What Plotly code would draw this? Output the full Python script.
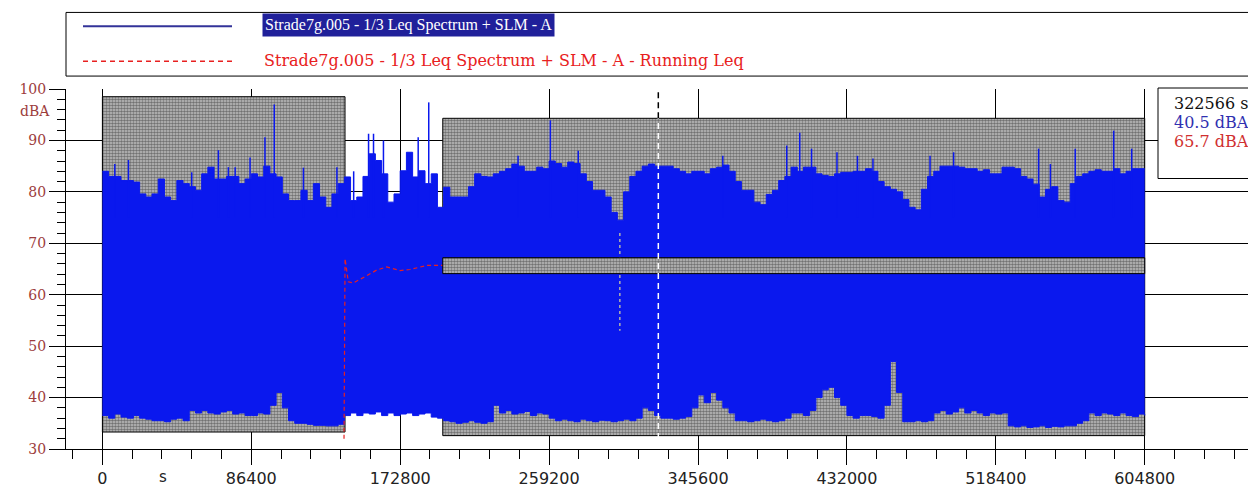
import numpy as np
import plotly.graph_objects as go

# ---------------- data ----------------
# hourly envelope of the 1/3 Leq Spectrum + SLM - A time history (dBA)
hour_index = list(range(169))          # 0 .. 168 h  (0 .. 604800 s)
upper_dba = [
    84.0, 83.0, 83.0, 82.2, 82.2, 81.9, 79.6, 79.0, 79.6, 82.5,
    79.0, 78.3, 82.2, 81.6, 81.0, 80.3, 83.5, 84.8, 82.5, 82.5,
    83.0, 83.0, 81.6, 82.5, 83.5, 82.9, 85.0, 83.5, 82.9, 79.6,
    78.3, 78.3, 80.3, 78.3, 81.6, 79.0, 77.0, 79.6, 81.6, 82.9,
    78.3, 79.0, 83.0, 87.4, 86.1, 83.5, 78.0, 79.6, 84.1, 87.7,
    82.9, 84.1, 81.6, 83.5, 77.0, 80.9, 79.0, 79.0, 79.0, 81.0,
    83.5, 83.0, 82.9, 83.5, 84.0, 84.5, 85.4, 85.0, 84.0, 84.0,
    84.8, 84.5, 86.0, 85.5, 84.8, 85.8, 85.5, 83.5, 82.0, 80.3,
    80.3, 79.0, 76.0, 74.5, 80.0, 83.0, 84.0, 85.0, 85.4, 85.0,
    85.0, 85.0, 84.5, 84.0, 83.5, 84.0, 84.0, 83.5, 84.5, 84.8,
    85.2, 84.0, 82.0, 80.3, 80.3, 78.0, 77.5, 79.5, 80.3, 82.2,
    83.0, 84.8, 84.0, 84.8, 84.8, 83.5, 83.2, 83.0, 83.5, 83.8,
    83.8, 84.0, 84.0, 84.5, 84.0, 82.0, 81.0, 80.5, 80.0, 78.5,
    77.0, 76.5, 80.5, 83.0, 84.0, 85.0, 85.0, 85.0, 84.8, 84.5,
    84.5, 84.0, 84.3, 83.5, 83.5, 84.8, 84.8, 84.5, 83.0, 82.5,
    81.5, 79.0, 80.5, 81.0, 78.3, 78.0, 81.6, 83.0, 83.5, 84.0,
    84.3, 84.0, 84.0, 84.5, 83.5, 84.0, 84.5, 84.5, 84.5,
]
lower_dba = [
    36.5, 36.0, 36.8, 36.2, 36.0, 36.5, 36.0, 35.8, 35.5, 35.5,
    35.3, 35.8, 36.0, 35.5, 37.5, 37.0, 37.5, 37.0, 36.8, 37.2,
    37.5, 36.8, 37.0, 36.5, 36.5, 37.0, 36.8, 38.5, 41.0, 38.0,
    35.5, 35.0, 35.0, 34.8, 34.6, 34.6, 34.5, 34.5, 34.8, 36.5,
    37.0, 36.5, 37.0, 36.8, 37.2, 36.5, 37.0, 36.5, 36.8, 37.0,
    36.5, 36.8, 37.0, 36.2, 36.0, 35.5, 35.3, 35.0, 35.2, 35.5,
    35.2, 35.0, 35.3, 38.5, 37.0, 37.5, 36.8, 37.0, 37.3, 36.5,
    37.0, 36.8, 36.0, 35.5, 35.8, 35.5, 35.3, 35.8, 35.5, 35.3,
    35.6, 35.5, 35.3, 35.5, 35.8, 35.5, 36.0, 38.0, 37.5, 36.5,
    36.0, 36.0, 35.8, 36.0, 36.3, 38.0, 40.5, 39.0, 41.0, 39.5,
    38.0, 37.0, 35.5, 35.5, 35.3, 35.5, 35.8, 35.5, 35.3, 35.5,
    36.0, 37.0, 37.0, 36.5, 37.5, 40.0, 41.5, 42.0, 40.0, 38.5,
    36.5, 36.0, 36.5, 36.5, 36.3, 36.0, 38.5, 47.0, 41.0, 35.3,
    35.3, 35.5, 35.3, 35.5, 37.0, 37.5, 36.8, 37.2, 38.0, 37.0,
    37.5, 37.0, 36.5, 37.0, 36.8, 37.0, 34.5, 34.3, 34.5, 34.2,
    34.3, 34.5, 34.2, 34.4, 34.3, 34.5, 34.5, 35.0, 35.5, 37.0,
    36.5, 37.0, 36.8, 36.5, 37.0, 36.5, 36.3, 36.8, 36.5,
]
# short peaks above the envelope (time in s, level in dBA)
peak_time_s = [7200, 15120, 51840, 67320, 73080, 77040, 85680, 94320, 99720,
               116640, 136080, 145800, 154440, 157320, 163080, 183240, 189360,
               241200, 259920, 276120, 360000, 397080, 404640, 411480, 426240,
               438120, 447120, 480240, 493920, 543240, 550080, 564480, 586800,
               597240]
peak_dba = [85.4, 86.2, 83.8, 88.1, 84.8, 84.8, 86.7, 90.6, 97.0, 84.7, 84.8,
            84.0, 91.3, 91.3, 90.0, 90.6, 97.4, 87.0, 93.9, 88.0, 87.0, 89.0,
            91.5, 88.4, 87.7, 87.0, 86.5, 87.0, 87.7, 88.4, 85.4, 88.4, 91.9,
            88.4]
dip_time_s = [300240]
dip_dba = [53.0]

# running Leq
run_time_s = [140200, 140800, 142700, 145600, 153400, 159200, 165000,
              172700, 178500, 188200, 197800, 604800]
run_dba = [32.0, 67.0, 62.5, 62.3, 63.7, 64.8, 65.4, 64.7, 64.9, 65.7, 65.7, 65.7]

# marked (excluded) regions: t0, t1, level low, level high
marked_regions = [(0, 140780, 33.3, 98.5), (197500, 604800, 32.6, 94.3)]
leq_band = (197500, 604800, 64.1, 67.2)

cursor_time_s = 322566
cursor_texts = ["322566 s", "40.5 dBA", "65.7 dBA"]

x_ticks = [0, 86400, 172800, 259200, 345600, 432000, 518400, 604800]
x_tick_labels = ["0", "86400", "172800", "259200", "345600", "432000", "518400", "604800"]
y_ticks = [30, 40, 50, 60, 70, 80, 90, 100]
y_tick_labels = ["30", "40", "50", "60", "70", "80", "90", "100"]

legend_labels = ["Strade7g.005 - 1/3 Leq Spectrum + SLM - A",
                 "Strade7g.005 - 1/3 Leq Spectrum + SLM - A - Running Leq"]

# ---------------- styling ----------------
BLUE = "#0a18ee"
RED = "#e82020"
NAVY = "#20209a"
YLAB = "#9c3c3c"
SERIF = "Liberation Serif"
WSERIF = "DejaVu Serif"

W, H = 1248, 488
L, R, T, B = 66, 0, 89, 37
PW, PH = W - L - R, H - T - B

def px(x):
    return (x - L) / PW

def py(y):
    return (H - B - y) / PH

t_hours = [h * 3600 for h in hour_index]

fig = go.Figure()

hatch = dict(shape=".", size=3, solidity=0.6, fgcolor="#202020", bgcolor="#c4c4c4")

for (t0, t1, lo, hi) in marked_regions:
    fig.add_trace(go.Scatter(
        x=[t0, t1, t1, t0, t0], y=[lo, lo, hi, hi, lo], mode="lines",
        fill="toself", fillcolor="#8c8c8c", fillpattern=hatch,
        line=dict(color="black", width=1), hoverinfo="skip", showlegend=False))

fig.add_trace(go.Scatter(x=t_hours, y=lower_dba, mode="lines",
                         line=dict(color=BLUE, width=1, shape="hv"),
                         hoverinfo="skip", showlegend=False))
fig.add_trace(go.Scatter(x=t_hours, y=upper_dba, mode="lines",
                         line=dict(color=BLUE, width=1, shape="hv"),
                         fill="tonexty", fillcolor=BLUE,
                         hoverinfo="skip", showlegend=False))

sx, sy = [], []
for t, v in zip(peak_time_s, peak_dba):
    sx += [t, t, None]
    sy += [75, v, None]
fig.add_trace(go.Scatter(x=sx, y=sy, mode="lines", line=dict(color=BLUE, width=1.5),
                         hoverinfo="skip", showlegend=False))
dx, dy = [], []
for t, v in zip(dip_time_s, dip_dba):
    dx += [t, t, None]
    dy += [72, v, None]
fig.add_trace(go.Scatter(x=dx, y=dy, mode="lines",
                         line=dict(color="#b0b0b0", width=1.5, dash="dot"),
                         hoverinfo="skip", showlegend=False))

fig.add_trace(go.Scatter(x=run_time_s, y=run_dba, mode="lines",
                         line=dict(color=RED, width=1.2, dash="4px,3px"),
                         hoverinfo="skip", showlegend=False))

t0, t1, lo, hi = leq_band
fig.add_trace(go.Scatter(
    x=[t0, t1, t1, t0, t0], y=[lo, lo, hi, hi, lo], mode="lines",
    fill="toself", fillcolor="#8c8c8c", fillpattern=hatch,
    line=dict(color="black", width=1), hoverinfo="skip", showlegend=False))

shapes = [
    dict(type="line", xref="x", yref="y", x0=cursor_time_s, x1=cursor_time_s,
         y0=30, y1=94.3, line=dict(color="white", width=1.5, dash="6px,4px"), layer="above"),
    dict(type="line", xref="x", yref="y", x0=cursor_time_s, x1=cursor_time_s,
         y0=94.3, y1=100, line=dict(color="black", width=1.5, dash="6px,4px"), layer="above"),
    # legend frame
    dict(type="rect", xref="paper", yref="paper", x0=px(66), x1=px(1260),
         y0=py(76), y1=py(12), line=dict(color="black", width=1), fillcolor="white"),
    dict(type="line", xref="paper", yref="paper", x0=px(83), x1=px(232),
         y0=py(26), y1=py(26), line=dict(color="#333399", width=2)),
    dict(type="line", xref="paper", yref="paper", x0=px(83), x1=px(232),
         y0=py(61), y1=py(61), line=dict(color=RED, width=1.5, dash="5px,4px")),
    # cursor readout box
    dict(type="rect", xref="paper", yref="paper", x0=px(1158), x1=px(1270),
         y0=py(179), y1=py(88), line=dict(color="black", width=1), fillcolor="white",
         layer="above"),
]

ann = [
    dict(text=legend_labels[0], x=px(262), y=py(25), xref="paper", yref="paper",
         xanchor="left", yanchor="middle", showarrow=False, bgcolor=NAVY, borderpad=2,
         font=dict(family=SERIF, size=16, color="white")),
    dict(text=legend_labels[1], x=px(262), y=py(60), xref="paper", yref="paper",
         xanchor="left", yanchor="middle", showarrow=False,
         font=dict(family=WSERIF, size=16, color=RED)),
    dict(text="dBA", x=px(52), y=py(111), xref="paper", yref="paper",
         xanchor="right", yanchor="middle", showarrow=False,
         font=dict(family=WSERIF, size=14, color=YLAB)),
    dict(text="s", x=35000, y=py(479), xref="x", yref="paper",
         xanchor="center", yanchor="middle", showarrow=False,
         font=dict(family="DejaVu Sans", size=15, color="#222222")),
]
for i, (txt, col) in enumerate(zip(cursor_texts, ["#111111", "#3030b0", "#d03030"])):
    ann.append(dict(text=txt, x=px(1172), y=py(104 + 19 * i), xref="paper", yref="paper",
                    xanchor="left", yanchor="middle", showarrow=False,
                    font=dict(family=WSERIF, size=16, color=col)))

x_left = -21121
x_right = x_left + PW * 580.25

fig.update_layout(
    width=W, height=H, margin=dict(l=L, r=R, t=T, b=B),
    plot_bgcolor="white", paper_bgcolor="white",
    shapes=shapes, annotations=ann, showlegend=False,
    xaxis=dict(range=[x_left, x_right], tickmode="array", tickvals=x_ticks,
               ticktext=x_tick_labels, ticks="outside", ticklen=15, tickcolor="black",
               showgrid=True, gridcolor="black", gridwidth=1, zeroline=False,
               showline=True, linecolor="black", linewidth=1,
               tickfont=dict(family="DejaVu Sans", size=16, color="#222222"),
               minor=dict(dtick=17280, tick0=0, ticks="outside", ticklen=9,
                          tickcolor="black", showgrid=False)),
    yaxis=dict(range=[30, 100], tickmode="array", tickvals=y_ticks,
               ticktext=y_tick_labels, ticks="outside", ticklen=16, tickcolor="black",
               showgrid=True, gridcolor="black", gridwidth=1, zeroline=False,
               showline=True, linecolor="black", linewidth=1,
               tickfont=dict(family=WSERIF, size=14, color=YLAB),
               minor=dict(dtick=2, tick0=30, ticks="outside", ticklen=8,
                          tickcolor="black", showgrid=False)),
)

fig.write_html("out.html")
